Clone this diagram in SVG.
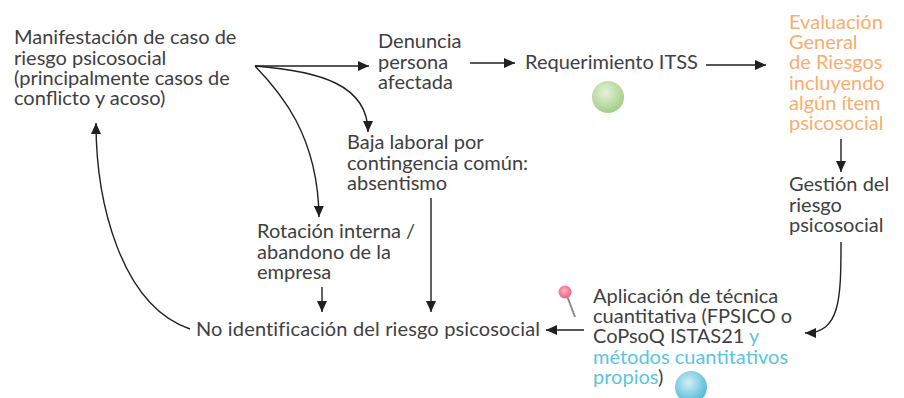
<svg xmlns="http://www.w3.org/2000/svg" width="904" height="398" viewBox="0 0 904 398">
<style>
text{font-family:"Lato","Open Sans","Liberation Sans",sans-serif;font-size:20px;fill:#404042}
.o,.o tspan{fill:#f9ad6e}
.b{fill:#5bc4df}
.c{fill:none;stroke:#231f20;stroke-width:1.4}
.v{fill:#231f20}
</style>
<defs>
<marker id="a" markerUnits="userSpaceOnUse" markerWidth="12" markerHeight="12" refX="11" refY="6" orient="auto"><path class="v" d="M0 1L11 6L0 11Z"/></marker>
<radialGradient id="g" cx="0.42" cy="0.36" r="0.7"><stop offset="0" stop-color="#e6f2dc"/><stop offset="1" stop-color="#9ccb7c"/></radialGradient>
<radialGradient id="bl" cx="0.42" cy="0.36" r="0.7"><stop offset="0" stop-color="#d4eef5"/><stop offset="1" stop-color="#45b6d6"/></radialGradient>
<radialGradient id="p" cx="0.45" cy="0.4" r="0.6"><stop offset="0" stop-color="#fbb4c4"/><stop offset="1" stop-color="#ec5f80"/></radialGradient>
</defs>
<g id="connectors">
<path class="c" marker-end="url(#a)" d="M255 66H369"/>
<path class="c" marker-end="url(#a)" d="M255 66C320 71 368 85 368 132"/>
<path class="c" marker-end="url(#a)" d="M255 66C280 92 318 135 319 217"/>
<path class="c" marker-end="url(#a)" d="M470 63H515"/>
<path class="c" marker-end="url(#a)" d="M706 65H766"/>
<path class="c" marker-end="url(#a)" d="M841 139V172"/>
<path class="c" marker-end="url(#a)" d="M841 242C841 300 840 333 805 333"/>
<path class="c" marker-end="url(#a)" d="M584 330H546"/>
<path class="c" marker-end="url(#a)" d="M431 198V312"/>
<path class="c" marker-end="url(#a)" d="M322 287V312"/>
<path class="c" marker-end="url(#a)" d="M190 329C120 305 96 200 96 123"/>
</g>
<g id="n1"><text x="14" y="44">Manifestación de caso de</text><text x="14" y="65">riesgo psicosocial</text><text x="14" y="85">(principalmente casos de</text><text x="14" y="105">conflicto y acoso)</text></g>
<g id="n2"><text x="378" y="48">Denuncia</text><text x="378" y="69">persona</text><text x="378" y="89">afectada</text></g>
<g id="n3"><text x="525" y="69">Requerimiento ITSS</text><circle cx="608" cy="97" r="16" fill="url(#g)"/></g>
<g id="n4"><text class="o" x="789" y="29">Evaluación</text><text class="o" x="789" y="49">General</text><text class="o" x="789" y="69">de Riesgos</text><text class="o" x="789" y="90">incluyendo</text><text class="o" x="789" y="110">algún ítem</text><text class="o" x="789" y="130">psicosocial</text></g>
<g id="n5"><text x="789" y="191">Gestión del</text><text x="789" y="212">riesgo</text><text x="789" y="232">psicosocial</text></g>
<g id="n6"><path d="M566 293L575 317" stroke="#8a8a8d" stroke-width="2" fill="none"/><circle cx="565" cy="292" r="6.5" fill="url(#p)"/><text x="593" y="303">Aplicación de técnica</text><text x="593" y="323">cuantitativa (FPSICO o</text><text x="593" y="343">CoPsoQ ISTAS21 <tspan class="b">y</tspan></text><text class="b" x="593" y="364">métodos cuantitativos</text><text x="593" y="384"><tspan class="b">propios</tspan>)</text><circle cx="691" cy="387" r="16" fill="url(#bl)"/></g>
<g id="n7"><text x="196" y="336" letter-spacing="0.15">No identificación del riesgo psicosocial</text></g>
<g id="n8"><text x="347" y="149">Baja laboral por</text><text x="347" y="170">contingencia común:</text><text x="347" y="190">absentismo</text></g>
<g id="n9"><text x="257" y="238">Rotación interna /</text><text x="257" y="259">abandono de la</text><text x="257" y="279">empresa</text></g>
</svg>
